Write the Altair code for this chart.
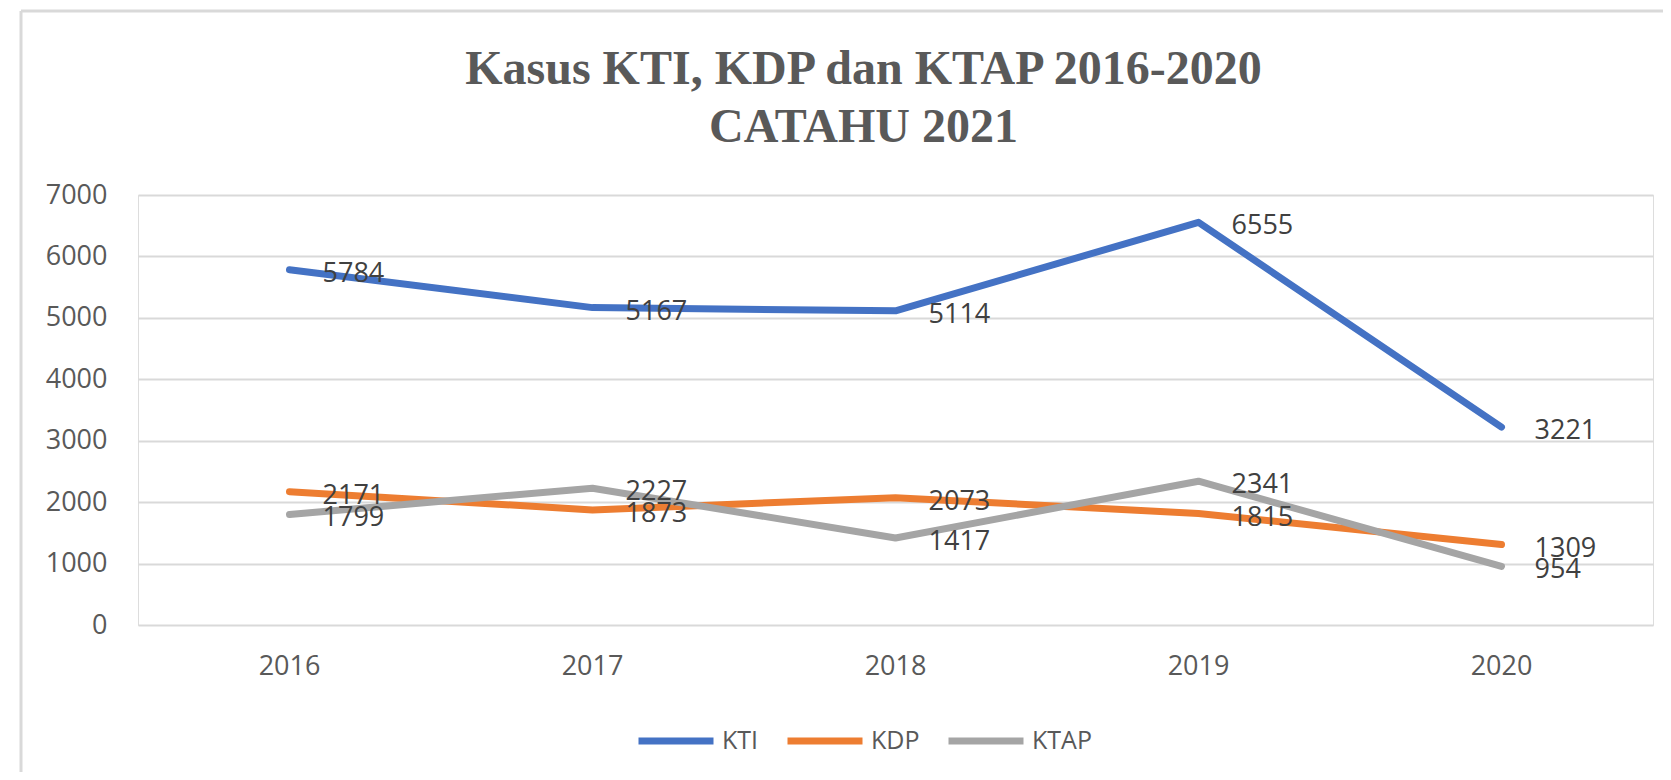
import altair as alt
import pandas as pd

years = ["2016", "2017", "2018", "2019", "2020"]
kti = [5784, 5167, 5114, 6555, 3221]
kdp = [2171, 1873, 2073, 1815, 1309]
ktap = [1799, 2227, 1417, 2341, 954]
series_names = ["KTI", "KDP", "KTAP"]
series_colors = ["#4472C4", "#ED7D31", "#A5A5A5"]
title_lines = ["Kasus KTI, KDP dan KTAP 2016-2020", "CATAHU 2021"]

rows = []
for name, vals in zip(series_names, [kti, kdp, ktap]):
    for y, v in zip(years, vals):
        rows.append({"Tahun": y, "Seri": name, "Jumlah": v})
df = pd.DataFrame(rows)

LABEL_FONT = "Open Sans"

x_enc = alt.X(
    "Tahun:N",
    sort=years,
    scale=alt.Scale(type="band", paddingInner=0, paddingOuter=0),
    axis=alt.Axis(
        title=None, labelAngle=0, ticks=False, domain=False, grid=False,
        labelFont=LABEL_FONT, labelFontSize=27, labelColor="#595959",
        labelPadding=28,
    ),
)
y_enc = alt.Y(
    "Jumlah:Q",
    scale=alt.Scale(domain=[0, 7000], nice=False),
    axis=alt.Axis(
        title=None, values=[0, 1000, 2000, 3000, 4000, 5000, 6000, 7000],
        format="d",
        ticks=False, domain=False, grid=True, gridColor="#D9D9D9",
        gridWidth=2, labelFont=LABEL_FONT, labelFontSize=27,
        labelColor="#595959", labelPadding=31,
    ),
)

base = alt.Chart(df)

lines = base.mark_line(strokeWidth=7, strokeCap="round", strokeJoin="round").encode(
    x=x_enc,
    y=y_enc,
    color=alt.Color(
        "Seri:N",
        scale=alt.Scale(domain=series_names, range=series_colors),
        sort=series_names,
        legend=alt.Legend(
            title=None, orient="none", direction="horizontal",
            legendX=497, legendY=505,
            symbolType="stroke", symbolSize=5625, symbolStrokeWidth=7,
            labelFont=LABEL_FONT, labelFontSize=25, labelColor="#595959",
            labelOffset=5, columnPadding=14,
        ),
    ),
)

labels = base.mark_text(
    align="left", baseline="middle", dx=33, dy=4,
    font=LABEL_FONT, fontSize=27, color="#404040",
).encode(
    x=alt.X("Tahun:N", sort=years),
    y=alt.Y("Jumlah:Q"),
    text=alt.Text("Jumlah:Q", format="d"),
)

frame_data = alt.Data(values=[{"a": 1}])
frame_v = alt.Chart(frame_data).mark_rule(color="#D9D9D9", strokeWidth=3).encode(
    x=alt.value(-117), y=alt.value(-184), y2=alt.value(700)
)
frame_h = alt.Chart(frame_data).mark_rule(color="#D9D9D9", strokeWidth=3).encode(
    x=alt.value(-117), x2=alt.value(1600), y=alt.value(-184)
)

chart = alt.layer(frame_v, frame_h, lines, labels).properties(
    width=1515,
    height=430,
    title=alt.TitleParams(
        title_lines, font="Liberation Serif", fontSize=48, fontWeight="bold",
        color="#595959", lineHeight=58, anchor="middle", dx=-32, offset=10,
        dy=152,
    ),
    autosize=alt.AutoSizeParams(type="none"),
    padding={"left": 130, "top": 187, "right": 10, "bottom": 147},
).configure_view(stroke=None).configure(background="white")

chart.save("out.html", embed_options={"renderer": "svg", "actions": False})
